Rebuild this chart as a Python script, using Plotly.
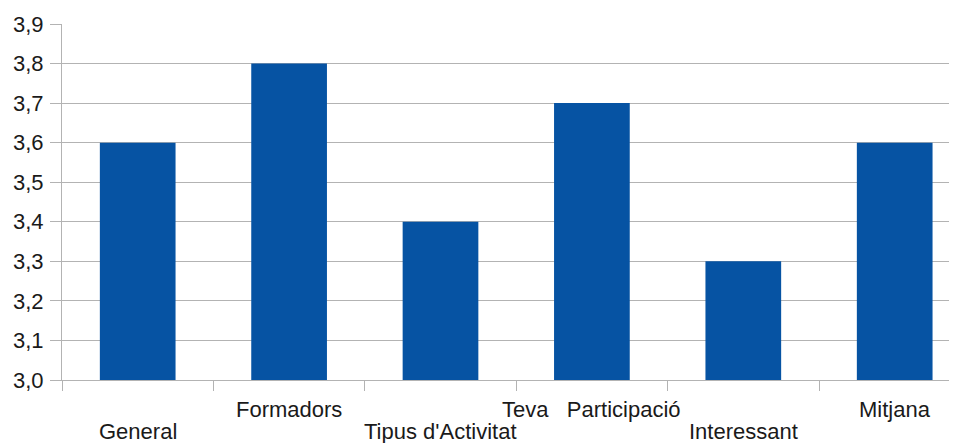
import plotly.graph_objects as go

categories = ["General", "Formadors", "Tipus d'Activitat", "Teva\u00a0\u00a0 Participació", "Interessant", "Mitjana"]
values = [3.6, 3.8, 3.4, 3.7, 3.3, 3.6]
y_ticks = [3.0, 3.1, 3.2, 3.3, 3.4, 3.5, 3.6, 3.7, 3.8, 3.9]
BASE = 3.0

BAR = "#0653a3"
GRID = "#b3b3b3"
FONT = "Liberation Sans, Arial, sans-serif"

fig = go.Figure()
fig.add_trace(go.Bar(
    x=categories,
    y=[v - BASE for v in values],
    base=BASE,
    width=0.5,
    marker=dict(color=BAR, line=dict(width=0)),
))

for i, name in enumerate(categories):
    fig.add_annotation(
        x=name, xref="x", y=0, yref="paper",
        text=name, showarrow=False,
        yanchor="middle", xanchor="center",
        yshift=-29 if i % 2 == 1 else -51,
        font=dict(family=FONT, size=22, color="#1a1a1a"),
    )

fig.update_layout(
    width=949, height=435,
    margin=dict(l=54, r=0, t=16, b=63),
    paper_bgcolor="white", plot_bgcolor="white",
    separators=",.",
    showlegend=False,
)
fig.update_xaxes(
    type="category",
    categoryorder="array", categoryarray=categories,
    range=[-0.5, -0.5 + (949 - 54) / 151.4],
    showticklabels=False,
    tickson="boundaries", ticks="outside", ticklen=10, tickcolor=GRID,
    showgrid=False, showline=True, linecolor=GRID, linewidth=1,
    zeroline=False,
)
fig.update_yaxes(
    range=[3.0, 3.9],
    tickmode="array", tickvals=y_ticks,
    tickformat=".1f",
    ticks="outside", ticklen=11, tickcolor=GRID,
    showgrid=True, gridcolor=GRID, gridwidth=1,
    showline=True, linecolor=GRID, linewidth=1,
    zeroline=False,
    ticklabelstandoff=2,
    tickfont=dict(family=FONT, size=22, color="#1a1a1a"),
)

fig.write_html("out.html")
